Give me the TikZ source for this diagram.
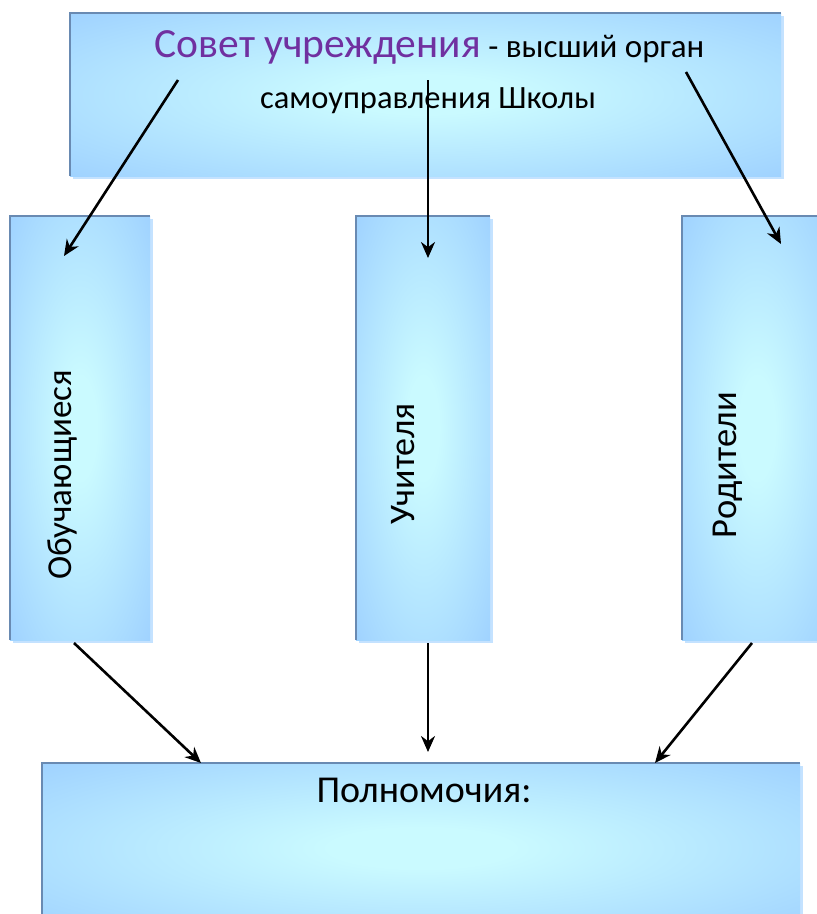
\documentclass[tikz,border=0pt]{standalone}
\usepackage{fontspec}
\setmainfont{Carlito}
\usetikzlibrary{shadows,arrows.meta}
\definecolor{boxedge}{RGB}{153,204,255}
\definecolor{boxmid}{RGB}{202,250,255}
\definecolor{rimc}{RGB}{105,138,178}
\definecolor{shadowc}{RGB}{196,226,255}
\definecolor{purp}{RGB}{112,48,160}
\pgfdeclareradialshading{boxshade}{\pgfpoint{0bp}{0bp}}{color(0bp)=(boxmid); color(6bp)=(boxmid); color(40bp)=(boxedge); color(50bp)=(boxedge)}
\begin{document}
\begin{tikzpicture}[x=1pt,y=-1pt,
  panel/.style={rectangle, inner sep=0pt, outer sep=0pt, shading=boxshade,
    drop shadow={shadow xshift=3pt, shadow yshift=-3pt, fill=shadowc, opacity=1}},
  rim/.style={draw=rimc, line width=2pt},
  conn/.style={draw=black, line width=2.6pt, -{Stealth[length=16pt,width=14pt]}},
  lbl/.style={inner sep=0pt, text=black}]
\useasboundingbox (0,0) rectangle (817,914);
\clip (0,0) rectangle (817,914);
% boxes
\node[panel, minimum width=711pt, minimum height=163pt] (top) at (425.5,94.5) {};
\node[panel, minimum width=140pt, minimum height=424pt] (left) at (80,428) {};
\node[panel, minimum width=134pt, minimum height=424pt] (mid) at (423,428) {};
\node[panel, minimum width=150pt, minimum height=424pt] (right) at (757,428) {};
\node[panel, minimum width=758pt, minimum height=170pt] (bot) at (421,848) {};
\foreach \b in {top,left,mid,right,bot}{
  \draw[rim] (\b.south west) -- (\b.north west) -- (\b.north east);
}
% texts
\node[lbl, anchor=base] (t1) at (429.5,57) {{\fontsize{41.5}{50}\selectfont\color{purp}Совет учреждения}{\fontsize{33}{40}\selectfont\ - высший орган}};
\node[lbl, anchor=base] (t2) at (428,108) {\fontsize{32.5}{39}\selectfont самоуправления Школы};
\node[lbl, rotate=90] (tl) at (62,475) {\fontsize{35}{42}\selectfont Обучающиеся};
\node[lbl, rotate=90] (tm) at (403,464) {\fontsize{36}{43}\selectfont Учителя};
\node[lbl, rotate=90] (tr) at (728,465) {\fontsize{36.5}{44}\selectfont Родители};
\node[lbl, anchor=base] (tb) at (424,802) {\fontsize{38}{46}\selectfont Полномочия:};
% connector points
\coordinate (a1s) at (178,80);  \coordinate (a1e) at (64,256);
\coordinate (a2s) at (428,80);  \coordinate (a2e) at (428,258);
\coordinate (a3s) at (686,72);  \coordinate (a3e) at (781,244);
\coordinate (b1s) at (74,643);  \coordinate (b1e) at (201,763);
\coordinate (b2s) at (428,643); \coordinate (b2e) at (428,752);
\coordinate (b3s) at (752,643); \coordinate (b3e) at (655,763);
\draw[conn] (a1s) -- (a1e);
\draw[conn] (a2s) -- (a2e);
\draw[conn] (a3s) -- (a3e);
\draw[conn] (b1s) -- (b1e);
\draw[conn] (b2s) -- (b2e);
\draw[conn] (b3s) -- (b3e);
\end{tikzpicture}
\end{document}
